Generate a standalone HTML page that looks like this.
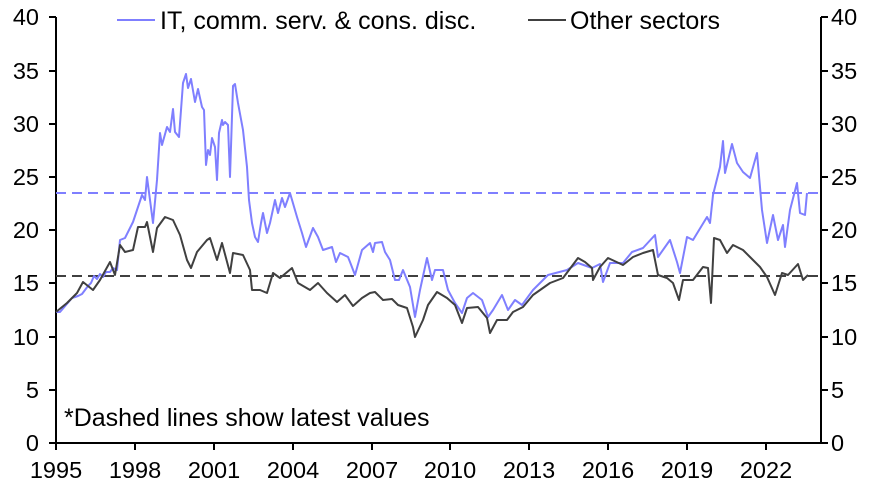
<!DOCTYPE html>
<html><head><style>body{margin:0;background:#fff}svg{display:block}text{font-family:"Liberation Sans",sans-serif;font-size:23.5px;fill:#000}.b{font-size:25px}</style></head><body>
<svg width="880" height="487" viewBox="0 0 880 487">
<g stroke="#000" stroke-width="2">
<line x1="56" y1="17" x2="56" y2="444"/><line x1="821" y1="17" x2="821" y2="444"/><line x1="55" y1="443" x2="822" y2="443"/>
<path d="M49 443H56M49 390H56M49 337H56M49 283H56M49 230H56M49 177H56M49 124H56M49 71H56M49 17H56"/>
<path d="M821 443H828M821 390H828M821 337H828M821 283H828M821 230H828M821 177H828M821 124H828M821 71H828M821 17H828"/>
<path d="M56 443V450M135 443V450M214 443V450M293 443V450M372 443V450M450 443V450M529 443V450M608 443V450M687 443V450M766 443V450"/>
</g>
<line x1="56" y1="193" x2="821" y2="193" stroke="#7f7fff" stroke-width="2" stroke-dasharray="10,6"/>
<line x1="56" y1="276" x2="821" y2="276" stroke="#404040" stroke-width="2" stroke-dasharray="10,6"/>
<polyline fill="none" stroke="#7f7fff" stroke-width="2" stroke-linejoin="round" points="56,312 60,312 66,305 72,298 78,296 82,294 85,290 88,286 91,283 94,276 97,279 100,274 103,277 106,272 110,272 113,268 117,270 120,240 125,238 133,222 142,195 145,200 147,177 153,223 157,180 160,133 162,145 167,127 170,132 173,109 175,132 179,137 183,83 186,74 188,88 191,79 195,102 198,89 202,107 204,110 206,165 208,150 210,155 212,138 215,147 217,180 219,133 222,120 223,125 225,122 228,125 230,177 233,86 235,84 238,103 243,130 247,167 249,200 252,223 255,237 258,242 261,223 263,213 267,233 270,223 275,200 278,213 282,198 285,207 290,193 297,217 302,233 306,247 313,228 318,237 323,250 332,247 336,262 340,253 348,257 350,262 355,275 362,250 370,243 373,252 375,243 382,242 385,252 390,260 395,280 399,280 403,270 410,287 415,317 420,290 427,258 432,280 435,270 443,270 448,290 455,303 462,313 467,298 473,293 482,300 488,317 493,310 502,295 508,310 515,300 522,305 533,290 548,275 567,270 578,263 592,268 600,264 603,282 610,263 623,263 632,252 643,248 655,235 658,257 670,240 677,262 680,273 687,237 693,240 707,217 710,223 713,195 720,167 723,141 725,173 732,144 737,163 743,172 750,178 757,153 762,210 767,243 773,215 778,240 783,225 785,247 790,210 797,183 800,213 805,215 807,193"/>
<polyline fill="none" stroke="#404040" stroke-width="2" stroke-linejoin="round" points="56,312 67,303 77,293 83,282 93,290 100,280 110,262 115,275 120,245 125,252 133,250 138,227 145,227 147,222 153,252 157,228 165,217 173,220 180,235 187,260 191,268 197,252 207,240 210,238 217,260 222,243 230,273 233,253 243,255 250,270 252,290 260,290 267,293 273,273 280,278 292,268 298,283 310,290 318,283 327,293 337,302 345,295 353,306 362,298 370,293 375,292 383,300 392,299 398,305 407,308 413,327 415,337 423,320 428,305 437,292 447,298 455,305 462,323 467,308 478,307 487,318 490,333 497,320 507,320 513,312 523,307 533,295 550,283 563,278 578,258 585,262 592,268 593,280 600,267 608,258 623,265 633,257 643,253 653,250 658,275 667,278 673,283 679,300 683,280 693,280 703,267 708,268 711,303 714,238 720,240 727,253 733,245 743,250 750,257 760,267 767,277 775,295 782,273 788,275 798,264 803,280 808,275"/>
<g text-anchor="end"><text x="39" y="451">0</text><text x="39" y="398">5</text><text x="39" y="345">10</text><text x="39" y="291">15</text><text x="39" y="238">20</text><text x="39" y="185">25</text><text x="39" y="132">30</text><text x="39" y="79">35</text><text x="39" y="25">40</text></g>
<g><text x="831" y="451">0</text><text x="831" y="398">5</text><text x="831" y="345">10</text><text x="831" y="291">15</text><text x="831" y="238">20</text><text x="831" y="185">25</text><text x="831" y="132">30</text><text x="831" y="79">35</text><text x="831" y="25">40</text></g>
<g text-anchor="middle"><text x="56" y="478">1995</text><text x="135" y="478">1998</text><text x="214" y="478">2001</text><text x="293" y="478">2004</text><text x="372" y="478">2007</text><text x="450" y="478">2010</text><text x="529" y="478">2013</text><text x="608" y="478">2016</text><text x="687" y="478">2019</text><text x="766" y="478">2022</text></g>
<line x1="117" y1="20" x2="155" y2="20" stroke="#7f7fff" stroke-width="2"/><text class="b" x="160" y="29">IT, comm. serv. &amp; cons. disc.</text>
<line x1="528" y1="20" x2="566" y2="20" stroke="#404040" stroke-width="2"/><text class="b" x="570" y="29">Other sectors</text>
<text class="b" x="64" y="426">*Dashed lines show latest values</text>
</svg></body></html>
